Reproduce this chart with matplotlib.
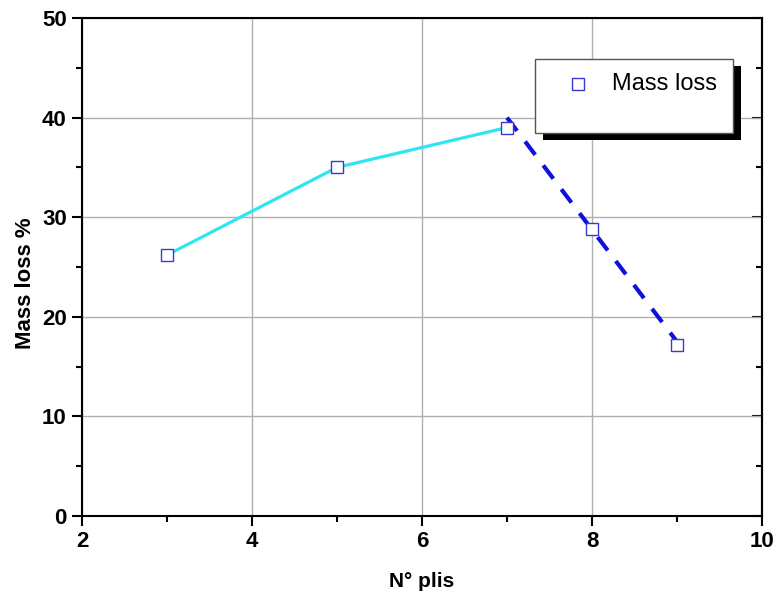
import matplotlib
matplotlib.use("Agg")
import matplotlib.pyplot as plt
from matplotlib.ticker import MultipleLocator
from matplotlib.lines import Line2D
import matplotlib.patches as mpatches

plt.rcParams['font.family'] = ['Liberation Sans', 'DejaVu Sans']

# measured points
plies = [3, 5, 7, 8, 9]
mass_loss = [26.2, 35.0, 39.0, 28.8, 17.2]

# cyan segment through the first three points
rise_x = [3, 5, 7]
rise_y = [26.2, 35.0, 39.0]

# dashed trend after the peak
drop_x = [7, 9]
drop_y = [40.0, 17.5]

fig = plt.figure(figsize=(7.74, 6.03), dpi=100)
ax = fig.add_axes([82/774, 1-516/603, 680/774, 498/603])

ax.grid(True, color='#b0b0b0', linewidth=1)
ax.set_axisbelow(True)

ax.plot(rise_x, rise_y, color='#2ee6f0', linewidth=2.3, zorder=2)
ax.plot(drop_x, drop_y, color='#1010dd', linewidth=3, dashes=(4, 3.2), zorder=3)
ax.plot(plies, mass_loss, linestyle='none', marker='s', markersize=8,
        markerfacecolor='white', markeredgecolor='#3a3ad0', markeredgewidth=1, zorder=4)

ax.set_xlim(2, 10)
ax.set_ylim(0, 50)
ax.xaxis.set_major_locator(MultipleLocator(2))
ax.xaxis.set_minor_locator(MultipleLocator(1))
ax.yaxis.set_major_locator(MultipleLocator(10))
ax.yaxis.set_minor_locator(MultipleLocator(5))

ax.tick_params(which='major', direction='out', length=7, width=1.5, labelsize=16, pad=4)
ax.tick_params(which='minor', direction='out', length=4, width=1.5)
ax.tick_params(axis='x', which='both', top=False)
for lab in ax.get_xticklabels() + ax.get_yticklabels():
    lab.set_fontweight('bold')
for s in ax.spines.values():
    s.set_linewidth(1.5)

# right axis: ticks pointing inward, no labels
sec = ax.secondary_yaxis('right')
sec.yaxis.set_major_locator(MultipleLocator(10))
sec.yaxis.set_minor_locator(MultipleLocator(5))
sec.tick_params(which='major', direction='in', length=7, width=1.5, labelright=False)
sec.tick_params(which='minor', direction='in', length=4, width=1.5)
sec.spines['right'].set_linewidth(1.5)

ax.set_xlabel('N° plis', fontsize=15, fontweight='bold', labelpad=14)
ax.set_ylabel('Mass loss %', fontsize=16, fontweight='bold')
ax.yaxis.set_label_coords(-0.068, 0.468)

# legend box with a black drop shadow
shadow = mpatches.Rectangle((543/774, 1-140/603), 198/774, 74/603, transform=fig.transFigure,
                            facecolor='black', edgecolor='none', zorder=5)
box = mpatches.Rectangle((535/774, 1-133/603), 198/774, 74/603, transform=fig.transFigure,
                         facecolor='white', edgecolor='#555555', linewidth=1, zorder=6)
fig.patches.extend([shadow, box])
fig.lines.append(Line2D([578/774], [1-84/603], transform=fig.transFigure, marker='s',
                        markersize=8, markerfacecolor='white', markeredgecolor='#3a3ad0',
                        linestyle='none', zorder=7))
fig.text(612/774, 1-84/603, 'Mass loss', fontsize=17, va='center', ha='left', zorder=7)

fig.savefig('out.png', dpi=100)
